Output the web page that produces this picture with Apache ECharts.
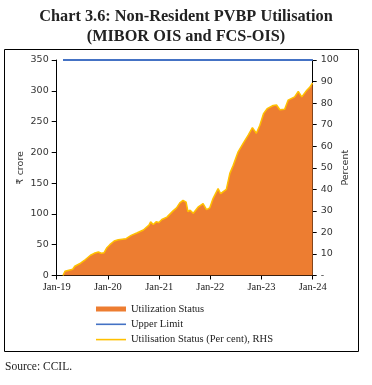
<!DOCTYPE html>
<html>
<head>
<meta charset="utf-8">
<script src="https://cdn.jsdelivr.net/npm/echarts@6/dist/echarts.min.js"></script>
<style>html,body{margin:0;padding:0;background:#fff}#c{width:372px;height:385px}</style>
</head>
<body>
<div id="c"></div>
<script>
// Dates of observations
const dates = ['2019-02-15','2019-03-01','2019-03-15','2019-04-25','2019-05-10','2019-06-20','2019-07-25','2019-08-30','2019-09-25','2019-10-25','2019-11-15','2019-12-05','2019-12-25',
'2020-01-15','2020-02-15','2020-03-15','2020-05-10','2020-06-15','2020-07-25','2020-09-10','2020-10-20','2020-11-01','2020-11-20','2020-12-10','2020-12-30',
'2021-01-20','2021-02-25','2021-04-10','2021-05-05','2021-05-28','2021-06-20','2021-07-12','2021-07-25','2021-08-10','2021-09-01','2021-10-05','2021-11-10','2021-12-05','2021-12-28',
'2022-01-20','2022-02-25','2022-03-15','2022-04-25','2022-05-08','2022-05-20','2022-06-13','2022-07-18','2022-08-24','2022-09-28','2022-10-28','2022-11-25','2022-12-20',
'2023-01-15','2023-02-10','2023-03-25','2023-04-18','2023-05-12','2023-06-15','2023-07-10','2023-08-25','2023-09-20','2023-10-15','2023-11-20','2023-12-12','2023-12-31'];
// Utilization Status (₹ crore)
const utilCrore = [0,7,9,10,15,20,26,33,36,38,36,37,45,
50,56,58,60,65,69,74,82,87,83,87,86,
91,95,105,110,118,122,119,104,106,101,111,117,107,110,
125,141,133,140,143,166,179,201,215,228,240,231,244,
263,271,276,277,269,270,285,290,299,290,301,306,313];
// Utilisation Status (Per cent), RHS
const utilPct = [0,2.0,2.6,2.9,4.3,5.7,7.4,9.4,10.3,10.9,10.3,10.6,12.9,
14.3,16.0,16.6,17.1,18.6,19.7,21.1,23.4,24.9,23.7,24.9,24.6,
26.0,27.1,30.0,31.4,33.7,34.9,34.0,29.7,30.3,28.9,31.7,33.4,30.6,31.4,
35.7,40.3,38.0,40.0,40.9,47.4,51.1,57.4,61.4,65.1,68.6,66.0,69.7,
75.1,77.4,78.9,79.1,76.9,77.1,81.4,82.9,85.4,82.9,86.0,87.4,89.4];
// Upper Limit (₹ crore)
const upperDates = ['2019-02-15','2024-01-01'];
const upperLimit = [350,350];
const leftTicks = {min:0, max:350, interval:50};
const rightTicks = {min:0, max:100, interval:10};
const xRange = {min:'2019-01-01', max:'2024-01-01'};

const zip = (a,b) => a.map((d,i)=>[d,b[i]]);
const chart = echarts.init(document.getElementById('c'), null, {renderer:'canvas'});
const serif = 'Liberation Serif';
const sans = 'DejaVu Sans';
const YEAR = 365.25*24*3600*1000;
chart.setOption({
  animation:false,
  title:{
    text:'Chart 3.6: Non-Resident PVBP Utilisation\n(MIBOR OIS and FCS-OIS)',
    left:'center', top:2,
    textStyle:{fontFamily:serif, fontWeight:'bold', fontSize:16.3, lineHeight:20, color:'#222'}
  },
  grid:{left:56.7, right:59.3, top:60, bottom:109.5},
  legend:{
    orient:'vertical', left:91, top:298.5, itemWidth:30, itemHeight:12, itemGap:4.3,
    textStyle:{fontFamily:serif, fontSize:10.5, color:'#222'},
    data:[
      {name:'Utilization Status', icon:'path://M0,0H30V5H0Z'},
      {name:'Upper Limit', icon:'path://M0,0H30V1.6H0Z'},
      {name:'Utilisation Status (Per cent), RHS', icon:'path://M0,0H30V1.6H0Z'}
    ]
  },
  xAxis:{
    type:'time', min:xRange.min, max:xRange.max,
    minInterval:YEAR*0.99, maxInterval:YEAR*1.01,
    axisLine:{lineStyle:{color:'#000', width:1}},
    axisTick:{show:true, length:4, lineStyle:{color:'#000'}},
    minorTick:{show:false},
    splitLine:{show:false},
    axisLabel:{
      fontFamily:serif, fontSize:10.5, color:'#222', margin:6, hideOverlap:false,
      showMinLabel:true, showMaxLabel:true,
      formatter:function(v){const d=new Date(v); return 'Jan-'+String(d.getFullYear()).slice(2);}
    }
  },
  yAxis:[
    {type:'value', min:leftTicks.min, max:leftTicks.max, interval:leftTicks.interval,
     name:'₹ crore', nameLocation:'middle', nameRotate:90, nameGap:31, nameMoveOverlap:false,
     nameTextStyle:{fontFamily:sans, fontSize:9.5, color:'#333'},
     axisLine:{show:true, lineStyle:{color:'#000'}},
     axisTick:{show:true, length:5, lineStyle:{color:'#000'}},
     splitLine:{show:false},
     axisLabel:{fontFamily:sans, fontSize:9.5, color:'#333', margin:8}},
    {type:'value', min:rightTicks.min, max:rightTicks.max, interval:rightTicks.interval,
     position:'right',
     name:'Percent', nameLocation:'middle', nameRotate:90, nameGap:28, nameMoveOverlap:false,
     nameTextStyle:{fontFamily:sans, fontSize:9.5, color:'#333'},
     axisLine:{show:true, lineStyle:{color:'#000'}},
     axisTick:{show:true, length:4, lineStyle:{color:'#000'}},
     splitLine:{show:false},
     axisLabel:{fontFamily:sans, fontSize:9.5, color:'#333', margin:8,
       formatter:function(v){return v===0?'-':String(v);}}}
  ],
  series:[
    {name:'Utilization Status', type:'line', yAxisIndex:0, data:zip(dates,utilCrore),
     showSymbol:false, symbol:'none', lineStyle:{width:0}, color:'#ED7D31',
     areaStyle:{color:'#ED7D31', opacity:1}, z:1},
    {name:'Upper Limit', type:'line', yAxisIndex:0, data:zip(upperDates,upperLimit),
     showSymbol:false, symbol:'none', color:'#4472C4', lineStyle:{width:2, color:'#4472C4'}, z:3},
    {name:'Utilisation Status (Per cent), RHS', type:'line', yAxisIndex:1, data:zip(dates,utilPct),
     showSymbol:false, symbol:'none', color:'#FFC000', lineStyle:{width:1.5, color:'#FFC000'}, z:2}
  ],
  graphic:[
    {type:'rect', shape:{x:4.5, y:49.5, width:354, height:302}, style:{fill:'none', stroke:'#000', lineWidth:1}, silent:true, z:-1},
    {type:'text', left:5, top:361, style:{text:'Source: CCIL.', font:'11.5px "Liberation Serif"', fill:'#222'}}
  ]
});
</script>
</body>
</html>
